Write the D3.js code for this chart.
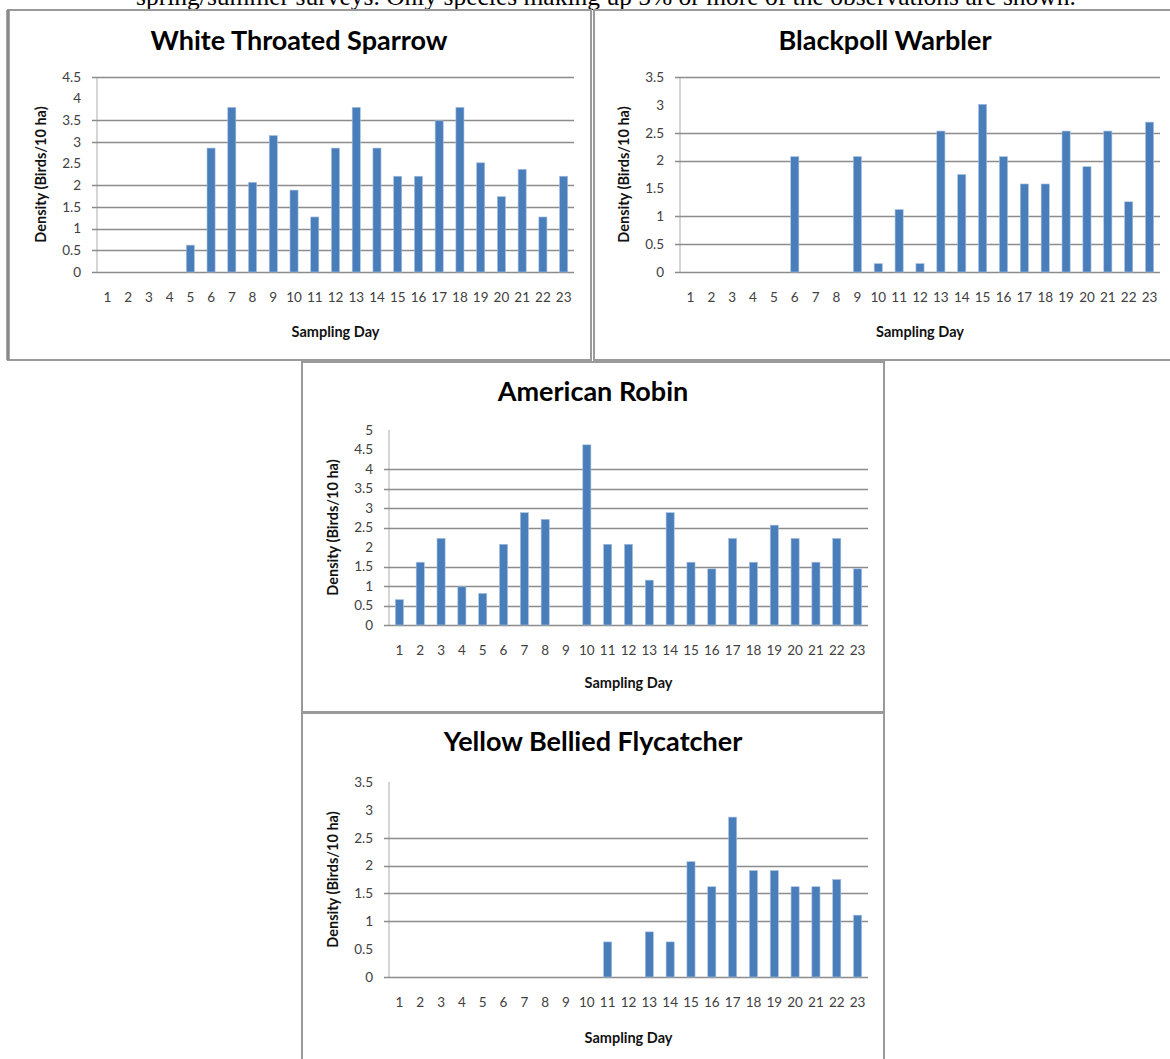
<!DOCTYPE html>
<html>
<head>
<meta charset="utf-8">
<script src="https://cdn.jsdelivr.net/npm/d3@7"></script>
<style>
  html, body { margin: 0; padding: 0; background: #fff; overflow: hidden; }
  svg { display: block; }
</style>
</head>
<body>
<svg id="root" width="1170" height="1059"></svg>
<script>
// ---------- DATA ----------
const captionText = "spring/summer surveys.  Only species making up 5% or more of the observations are shown.";
const days = ["1","2","3","4","5","6","7","8","9","10","11","12","13","14","15","16","17","18","19","20","21","22","23"];

const wtsTitle = "White Throated Sparrow";
const wtsValues = [0,0,0,0,0.62,2.86,3.80,2.07,3.15,1.89,1.27,2.86,3.80,2.86,2.21,2.21,3.49,3.80,2.52,1.74,2.37,1.27,2.21];
const wtsTicks = [0,0.5,1,1.5,2,2.5,3,3.5,4,4.5];
const wtsTickLabels = ["0","0.5","1","1.5","2","2.5","3","3.5","4","4.5"];
const wtsGrid = [0,0.5,1,1.5,2,3,3.5,4.5];

const bpwTitle = "Blackpoll Warbler";
const bpwValues = [0,0,0,0,0,2.07,0,0,2.07,0.15,1.12,0.15,2.53,1.75,3.01,2.07,1.58,1.58,2.53,1.89,2.53,1.26,2.69];
const bpwTicks = [0,0.5,1,1.5,2,2.5,3,3.5];
const bpwTickLabels = ["0","0.5","1","1.5","2","2.5","3","3.5"];
const bpwGrid = [0,0.5,1,2,2.5,3.5];

const amroTitle = "American Robin";
const amroValues = [0.65,1.61,2.22,0.98,0.81,2.07,2.88,2.71,0,4.62,2.07,2.07,1.15,2.88,1.61,1.44,2.22,1.61,2.56,2.22,1.61,2.22,1.44];
const amroTicks = [0,0.5,1,1.5,2,2.5,3,3.5,4,4.5,5];
const amroTickLabels = ["0","0.5","1","1.5","2","2.5","3","3.5","4","4.5","5"];
const amroGrid = [0,0.5,1,1.5,2.5,3,3.5,4];

const ybflTitle = "Yellow Bellied Flycatcher";
const ybflValues = [0,0,0,0,0,0,0,0,0,0,0.63,0,0.81,0.63,2.07,1.62,2.87,1.91,1.91,1.62,1.62,1.75,1.11];
const ybflTicks = [0,0.5,1,1.5,2,2.5,3,3.5];
const ybflTickLabels = ["0","0.5","1","1.5","2","2.5","3","3.5"];
const ybflGrid = [0,1,1.5,2,2.5];

const xAxisTitle = "Sampling Day";
const yAxisTitle = "Density (Birds/10 ha)";

// ---------- DRAW ----------
const svg = d3.select("#root");
const BAR = "#4a7ebb";
const FONT = "Lato, 'Open Sans', sans-serif";

svg.append("text")
  .attr("x", 606).attr("y", 5)
  .attr("text-anchor", "middle")
  .attr("font-family", "'Liberation Serif', 'Times New Roman', serif")
  .attr("font-size", 25.5)
  .attr("fill", "#000")
  .text(captionText);

function drawChart(cfg) {
  const g = svg.append("g");
  const { box, plot } = cfg;

  g.append("rect")
    .attr("x", box.x).attr("y", box.y)
    .attr("width", box.w).attr("height", box.h)
    .attr("fill", "#fff")
    .attr("stroke", "#9a9a9a")
    .attr("stroke-width", 2);
  if (cfg.thickLeft) {
    g.append("line")
      .attr("x1", box.x).attr("x2", box.x)
      .attr("y1", box.y).attr("y2", box.y + box.h)
      .attr("stroke", "#8a8a8a").attr("stroke-width", 3.5);
  }

  const x = d3.scaleBand()
    .domain(days)
    .range([plot.left, plot.right])
    .paddingInner(0.61)
    .paddingOuter(0.305);
  const y = d3.scaleLinear()
    .domain([0, d3.max(cfg.ticks)])
    .range([plot.bottom, plot.top]);

  g.append("line")
    .attr("x1", plot.left).attr("x2", plot.left)
    .attr("y1", y(d3.max(cfg.ticks))).attr("y2", plot.bottom)
    .attr("stroke", "#c8c8c8").attr("stroke-width", 1.5);

  g.selectAll("line.grid").data(cfg.grid).join("line")
    .attr("class", "grid")
    .attr("x1", plot.left - 5).attr("x2", plot.right)
    .attr("y1", d => Math.round(y(d)) + 0.5).attr("y2", d => Math.round(y(d)) + 0.5)
    .attr("stroke", "#8c8c8c").attr("stroke-width", 1.5);

  const yAxis = d3.axisLeft(y)
    .tickValues(cfg.ticks)
    .tickFormat((d, i) => cfg.tickLabels[i])
    .tickSize(0).tickPadding(0);
  const ya = g.append("g")
    .attr("transform", `translate(${plot.left - 16},0)`)
    .call(yAxis);
  ya.select(".domain").remove();
  ya.selectAll("text")
    .attr("font-family", FONT)
    .attr("font-size", 13.5)
    .attr("fill", "#404040");

  const xAxis = d3.axisBottom(x).tickSize(0).tickPadding(0);
  const xa = g.append("g")
    .attr("transform", `translate(0,${plot.bottom + 20})`)
    .call(xAxis);
  xa.select(".domain").remove();
  xa.selectAll("text")
    .attr("font-family", FONT)
    .attr("font-size", 13.5)
    .attr("fill", "#404040");

  g.selectAll("rect.bar")
    .data(cfg.values.map((v, i) => ({ day: days[i], v })).filter(d => d.v > 0))
    .join("rect")
    .attr("class", "bar")
    .attr("x", d => x(d.day))
    .attr("width", x.bandwidth())
    .attr("y", d => y(d.v))
    .attr("height", d => plot.bottom - y(d.v))
    .attr("fill", BAR)
    .attr("stroke", "#a9c1e0")
    .attr("stroke-width", 0.6);

  g.append("text")
    .attr("x", cfg.titleX)
    .attr("y", box.y + cfg.titleDy)
    .attr("text-anchor", "middle")
    .attr("font-family", FONT)
    .attr("font-weight", 700)
    .attr("font-size", 27)
    .attr("fill", "#000")
    .text(cfg.title);

  g.append("text")
    .attr("x", (plot.left + plot.right) / 2)
    .attr("y", plot.bottom + cfg.xTitleDy)
    .attr("text-anchor", "middle")
    .attr("font-family", FONT)
    .attr("font-weight", 700)
    .attr("font-size", 14.5)
    .attr("fill", "#111")
    .text(xAxisTitle);

  const cy = (plot.top + plot.bottom) / 2;
  g.append("text")
    .attr("transform", `translate(${plot.left - 51},${cy}) rotate(-90)`)
    .attr("text-anchor", "middle")
    .attr("font-family", FONT)
    .attr("font-weight", 700)
    .attr("font-size", 14.5)
    .attr("fill", "#111")
    .text(yAxisTitle);
}

drawChart({
  title: wtsTitle, values: wtsValues, ticks: wtsTicks, tickLabels: wtsTickLabels, grid: wtsGrid,
  box: { x: 8, y: 10, w: 583, h: 350 }, thickLeft: true,
  plot: { left: 97, right: 574, top: 77, bottom: 272 },
  titleX: 299, titleDy: 40, xTitleDy: 65
});
drawChart({
  title: bpwTitle, values: bpwValues, ticks: bpwTicks, tickLabels: bpwTickLabels, grid: bpwGrid,
  box: { x: 594, y: 10, w: 600, h: 350 },
  plot: { left: 680, right: 1160, top: 77, bottom: 272 },
  titleX: 885, titleDy: 40, xTitleDy: 65
});
drawChart({
  title: amroTitle, values: amroValues, ticks: amroTicks, tickLabels: amroTickLabels, grid: amroGrid,
  box: { x: 302, y: 362, w: 582, h: 350 },
  plot: { left: 389, right: 868, top: 430, bottom: 625 },
  titleX: 593, titleDy: 39, xTitleDy: 63
});
drawChart({
  title: ybflTitle, values: ybflValues, ticks: ybflTicks, tickLabels: ybflTickLabels, grid: ybflGrid,
  box: { x: 302, y: 713, w: 582, h: 360 },
  plot: { left: 389, right: 868, top: 782, bottom: 977 },
  titleX: 593, titleDy: 38, xTitleDy: 66
});
</script>
</body>
</html>
